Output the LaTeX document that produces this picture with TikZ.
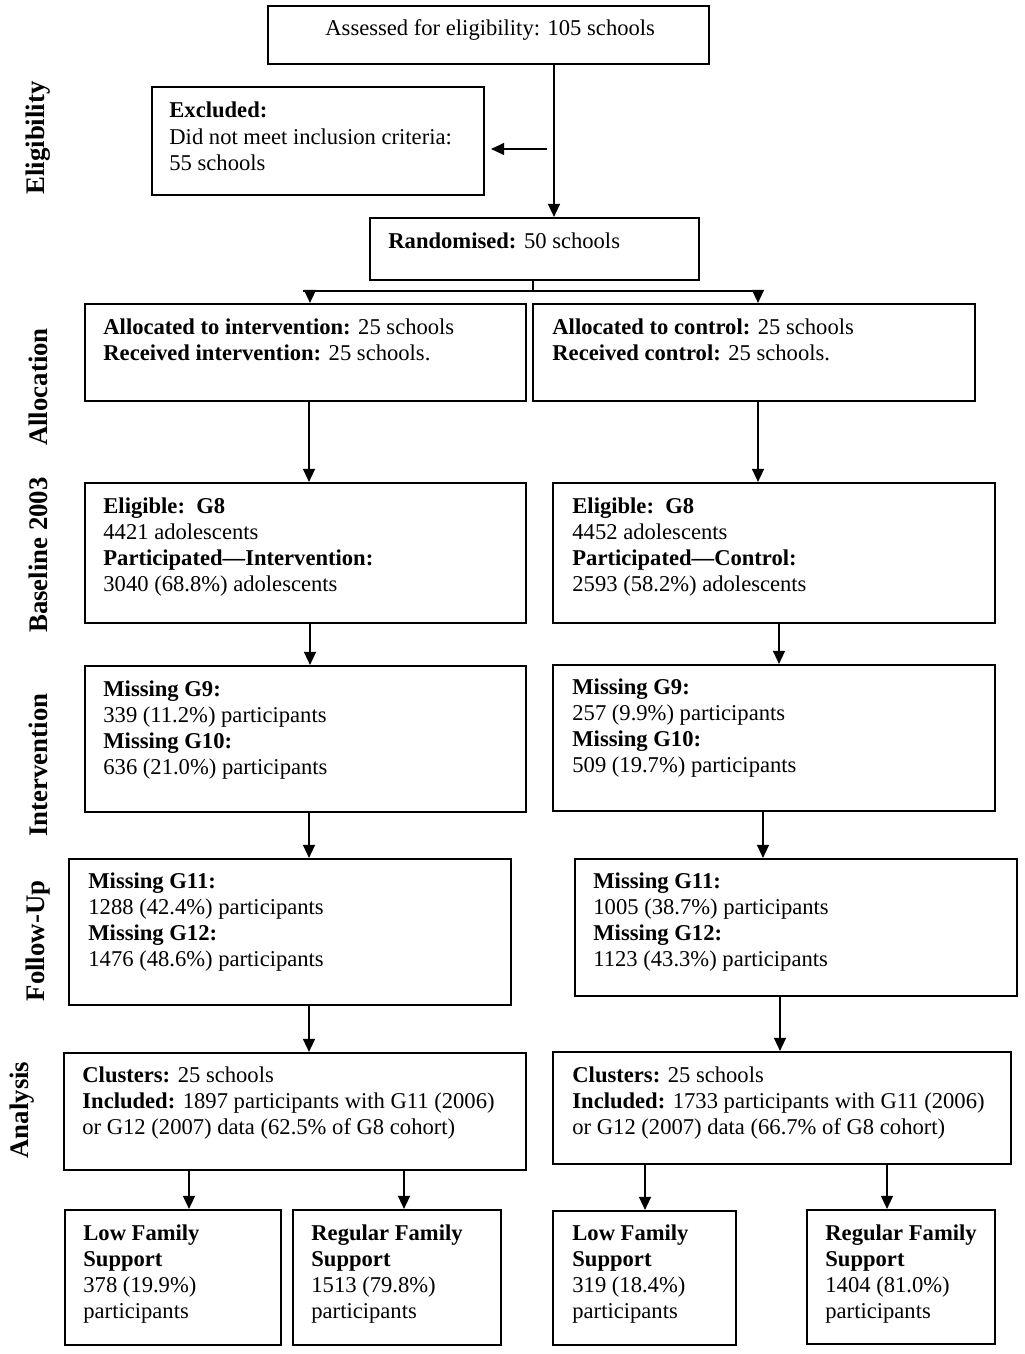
\documentclass[tikz,border=0pt]{standalone}
\usepackage{fontspec}
\setmainfont{Liberation Serif}
\usetikzlibrary{arrows.meta,fit}
\newcommand\mlines[1]{\begin{tabular}[t]{@{}l@{}}#1\end{tabular}}
\newcommand\mkbox[5]{%
  \coordinate (#1-a) at (#2,#3);
  \coordinate (#1-b) at (#4,#5);
  \node[flowbox, fit=(#1-a)(#1-b)] (#1) {};}
\newcommand\varr[4]{%
  \coordinate (#1-x) at (#4,0);
  \draw[arr] (#2.south -| #1-x) -- (#3.north -| #1-x);}
\begin{document}
\begin{tikzpicture}[x=0.5pt,y=-0.5pt,
  flowbox/.style={draw, line width=1.1pt, inner sep=0pt, rectangle},
  txt/.style={anchor=base west, inner sep=0pt, font=\fontsize{11.3}{13.15}\selectfont},
  side/.style={rotate=90, inner sep=0pt, font=\fontsize{13.4}{16}\selectfont\bfseries},
  arr/.style={line width=0.7pt, -{Triangle[length=6.5pt,width=6pt]}},
  ln/.style={line width=0.7pt}]
\fill[white] (0,0) rectangle (1024,1354);
\useasboundingbox (0,0) rectangle (1024,1354);

% side labels
\node[side] (sElig) at (38,138) {Eligibility};
\node[side] (sAlloc) at (38,387) {Allocation};
\node[side] (sBase) at (38,555) {Baseline 2003};
\node[side] (sInt) at (38,765) {Intervention};
\node[side] (sFol) at (38,941) {Follow-Up};
\node[side] (sAna) at (22,1110) {Analysis};

% boxes
\mkbox{assess}{268}{6}{709}{64}
\mkbox{excl}{152}{87}{484}{195}
\mkbox{rand}{370}{218}{699}{280}
\mkbox{allocL}{85}{304}{526}{401}
\mkbox{allocR}{533}{304}{975}{401}
\mkbox{baseL}{85}{483}{526}{623}
\mkbox{baseR}{553}{483}{995}{623}
\mkbox{intL}{85}{666}{526}{812}
\mkbox{intR}{553}{665}{995}{811}
\mkbox{folL}{69}{859}{511}{1005}
\mkbox{folR}{575}{859}{1017}{996}
\mkbox{anaL}{64}{1053}{526}{1170}
\mkbox{anaR}{553}{1052}{1011}{1164}
\mkbox{bA}{65}{1210}{281}{1345}
\mkbox{bB}{293}{1210}{501}{1345}
\mkbox{bC}{553}{1211}{736}{1345}
\mkbox{bD}{807}{1210}{995}{1344}

% texts
\node[txt] (assess-t) at (325,36) {Assessed for eligibility: 105 schools};
\node[txt] (excl-t) at (169,118) {\mlines{\textbf{Excluded:}\\Did not meet inclusion criteria:\\55 schools}};
\node[txt] (rand-t) at (388,248) {\textbf{Randomised:} 50 schools};
\node[txt] (allocL-t) at (103,334) {\mlines{\textbf{Allocated to intervention:} 25 schools\\\textbf{Received intervention:} 25 schools.}};
\node[txt] (allocR-t) at (552,334) {\mlines{\textbf{Allocated to control:} 25 schools\\\textbf{Received control:} 25 schools.}};
\node[txt] (baseL-t) at (103,513) {\mlines{\textbf{Eligible:\ \ G8}\\4421 adolescents\\\textbf{Participated—Intervention:}\\3040 (68.8\%) adolescents}};
\node[txt] (baseR-t) at (572,513) {\mlines{\textbf{Eligible:\ \ G8}\\4452 adolescents\\\textbf{Participated—Control:}\\2593 (58.2\%) adolescents}};
\node[txt] (intL-t) at (103,696) {\mlines{\textbf{Missing G9:}\\339 (11.2\%) participants\\\textbf{Missing G10:}\\636 (21.0\%) participants}};
\node[txt] (intR-t) at (572,694) {\mlines{\textbf{Missing G9:}\\257 (9.9\%) participants\\\textbf{Missing G10:}\\509 (19.7\%) participants}};
\node[txt] (folL-t) at (88,888) {\mlines{\textbf{Missing G11:}\\1288 (42.4\%) participants\\\textbf{Missing G12:}\\1476 (48.6\%) participants}};
\node[txt] (folR-t) at (593,888) {\mlines{\textbf{Missing G11:}\\1005 (38.7\%) participants\\\textbf{Missing G12:}\\1123 (43.3\%) participants}};
\node[txt] (anaL-t) at (82,1082) {\mlines{\textbf{Clusters:} 25 schools\\\textbf{Included:} 1897 participants with G11 (2006)\\or G12 (2007) data (62.5\% of G8 cohort)}};
\node[txt] (anaR-t) at (572,1082) {\mlines{\textbf{Clusters:} 25 schools\\\textbf{Included:} 1733 participants with G11 (2006)\\or G12 (2007) data (66.7\% of G8 cohort)}};
\node[txt] (bA-t) at (83,1240) {\mlines{\textbf{Low Family}\\\textbf{Support}\\378 (19.9\%)\\participants}};
\node[txt] (bB-t) at (311,1240) {\mlines{\textbf{Regular Family}\\\textbf{Support}\\1513 (79.8\%)\\participants}};
\node[txt] (bC-t) at (572,1240) {\mlines{\textbf{Low Family}\\\textbf{Support}\\319 (18.4\%)\\participants}};
\node[txt] (bD-t) at (825,1240) {\mlines{\textbf{Regular Family}\\\textbf{Support}\\1404 (81.0\%)\\participants}};

% connectors
\varr{c1}{assess}{rand}{554}
\coordinate (exs) at (547,149);
\draw[arr, shorten >=3pt] (exs) -- (excl.east |- exs);
\coordinate (sp) at (533,291);
\coordinate (spL) at (310,291);
\coordinate (spR) at (758,291);
\draw[ln] (rand.south -| sp) -- (sp);
\draw[ln] ([xshift=-3.5pt]spL) -- ([xshift=2.5pt]spR);
\draw[arr] (spL) -- (allocL.north -| spL);
\draw[arr] (spR) -- (allocR.north -| spR);
\varr{c2}{allocL}{baseL}{309}
\varr{c3}{allocR}{baseR}{758}
\varr{c4}{baseL}{intL}{310}
\varr{c5}{baseR}{intR}{779}
\varr{c6}{intL}{folL}{309}
\varr{c7}{intR}{folR}{763}
\varr{c8}{folL}{anaL}{309}
\varr{c9}{folR}{anaR}{780}
\varr{c10}{anaL}{bA}{189}
\varr{c11}{anaL}{bB}{404}
\varr{c12}{anaR}{bC}{645}
\varr{c13}{anaR}{bD}{887}
\end{tikzpicture}
\end{document}
